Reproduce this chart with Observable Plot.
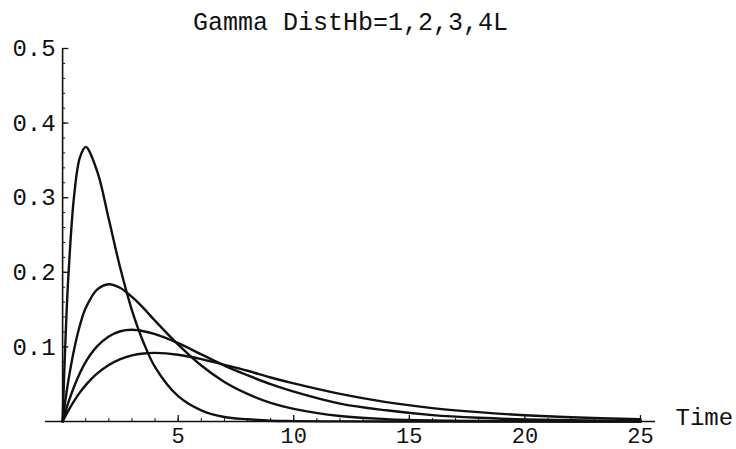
<!DOCTYPE html>
<html>
<head>
<meta charset="utf-8">
<script src="https://cdn.jsdelivr.net/npm/d3@7"></script>
<script src="https://cdn.jsdelivr.net/npm/@observablehq/plot@0.6"></script>
<style>
  body { margin: 0; background: #fff; }
  #chart svg { display: block; }
</style>
</head>
<body>
<div id="chart"></div>
<script>
// Title and axis labels
const titleText = "Gamma DistHb=1,2,3,4L";
const xLabel = "Time";

// Sample times
const times = [0, 0.1, 0.25, 0.5, 0.75, 1, 1.5, 2, 2.5, 3, 3.5, 4, 5, 6, 7, 8, 9, 10, 12, 14, 16, 18, 20, 22, 25];

// Series values (density at each time), one array per b
const seriesB1 = [0, 0.090, 0.195, 0.303, 0.354, 0.368, 0.335, 0.271, 0.205, 0.149, 0.106, 0.073, 0.034, 0.015, 0.006, 0.003, 0.001, 0.0005, 0.0001, 0, 0, 0, 0, 0, 0];
const seriesB2 = [0, 0.024, 0.055, 0.097, 0.129, 0.152, 0.177, 0.184, 0.179, 0.167, 0.152, 0.135, 0.103, 0.075, 0.053, 0.037, 0.025, 0.017, 0.0074, 0.0032, 0.0013, 0.0006, 0.0002, 0.0001, 0];
const seriesB3 = [0, 0.0107, 0.0256, 0.047, 0.065, 0.080, 0.101, 0.114, 0.121, 0.123, 0.121, 0.117, 0.105, 0.090, 0.075, 0.062, 0.050, 0.040, 0.024, 0.015, 0.0086, 0.0050, 0.0028, 0.0016, 0.0007];
const seriesB4 = [0, 0.0061, 0.0147, 0.0276, 0.039, 0.0487, 0.0644, 0.0758, 0.0837, 0.0886, 0.0912, 0.092, 0.0895, 0.0837, 0.076, 0.068, 0.059, 0.051, 0.037, 0.026, 0.018, 0.0125, 0.0084, 0.0056, 0.003];
const seriesNames = ["b=1", "b=2", "b=3", "b=4"];

// Tick labels
const xTicks = [5, 10, 15, 20, 25];
const xMinorTicks = d3.range(1, 26);
const yTicks = [0.1, 0.2, 0.3, 0.4, 0.5];
const yMinorTicks = d3.range(1, 26).map(i => +(i * 0.02).toFixed(2));

const rows = [];
[seriesB1, seriesB2, seriesB3, seriesB4].forEach((vals, k) => {
  vals.forEach((v, i) => rows.push({series: seriesNames[k], t: times[i], v}));
});

const font = "'Courier New', 'Liberation Mono', monospace";

const chart = Plot.plot({
  width: 736,
  height: 449,
  marginLeft: 45,
  marginRight: 81,
  marginTop: 48,
  marginBottom: 28,
  style: {fontFamily: font, fontSize: "24px", background: "#fff", color: "#111"},
  x: {domain: [-0.74, 25.65], axis: null},
  y: {domain: [0, 0.5], axis: null},
  marks: [
    // axes lines
    Plot.ruleY([0], {stroke: "#111", strokeWidth: 1.6}),
    Plot.ruleX([0], {y1: 0, y2: 0.5, stroke: "#111", strokeWidth: 1.6}),
    // x ticks
    Plot.ruleX(xMinorTicks, {x: d => d, y1: 0, y2: 0.004, stroke: "#111", strokeWidth: 1}),
    Plot.ruleX(xTicks, {x: d => d, y1: 0, y2: 0.008, stroke: "#111", strokeWidth: 1.3}),
    // y ticks
    Plot.ruleY(yMinorTicks, {y: d => d, x1: 0, x2: 0.13, stroke: "#111", strokeWidth: 1}),
    Plot.ruleY(yTicks, {y: d => d, x1: 0, x2: 0.27, stroke: "#111", strokeWidth: 1.3}),
    // tick labels
    Plot.text(xTicks, {x: d => d, y: 0, dy: 14, lineAnchor: "middle", text: d => String(d), fill: "#111", fontSize: 22}),
    Plot.text(yTicks, {x: 0, y: d => d, dx: -7, textAnchor: "end", text: d => d.toFixed(1), fill: "#111", fontSize: 24}),
    // axis label
    Plot.text([xLabel], {frameAnchor: "bottom-right", dx: 20, dy: -4, lineAnchor: "middle", textAnchor: "start", text: d => d, fill: "#111", fontSize: 24}),
    // title
    Plot.text([titleText], {frameAnchor: "top", dy: -27, dx: 0, lineAnchor: "middle", text: d => d, fill: "#111", fontSize: 25}),
    // curves
    Plot.line(rows, {x: "t", y: "v", z: "series", stroke: "#111", strokeWidth: 2.4, curve: "catmull-rom"})
  ]
});
document.getElementById("chart").append(chart);
</script>
</body>
</html>
